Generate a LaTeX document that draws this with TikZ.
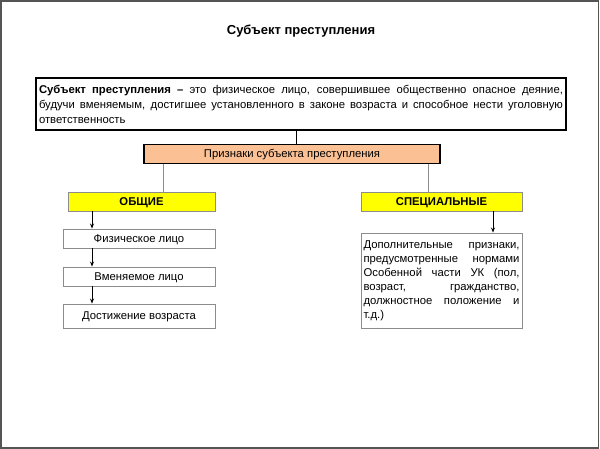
\documentclass[tikz,border=0pt]{standalone}
\usepackage{fontspec}
\setmainfont{Liberation Sans}
\usetikzlibrary{arrows.meta}
\hyphenpenalty=10000
\exhyphenpenalty=10000
\definecolor{orfill}{HTML}{FBC093}
\definecolor{yel}{HTML}{FFFF00}
\definecolor{frm}{HTML}{555555}
\definecolor{gbord}{HTML}{8C8C8C}
\tikzset{
  defbox/.style={draw=black, line width=1.6pt, minimum width=530pt, minimum height=52pt, text width=524pt, inner xsep=3pt, align=justify, font=\fontsize{11.3}{15}\selectfont},
  orbox/.style={draw=black, line width=1.1pt, fill=orfill, minimum height=19pt, text height=8pt, text depth=0.6pt, font=\fontsize{11.3}{13}\selectfont},
  yelbox/.style={draw=gbord, line width=0.9pt, fill=yel, minimum height=19pt, text height=8pt, text depth=0.3pt, font=\bfseries\fontsize{11.3}{13}\selectfont},
  whbox/.style={draw=gbord, line width=0.9pt, fill=white, minimum height=19pt, text height=8pt, text depth=0.6pt, font=\fontsize{11.3}{13}\selectfont},
  conn/.style={draw=black, line width=0.8pt},
  gconn/.style={draw=gbord, line width=0.9pt},
  arr/.style={draw=black, line width=0.8pt, -{Stealth[length=5pt,width=4pt]}}
}
\begin{document}
\begin{tikzpicture}[x=1pt,y=-1pt]
\useasboundingbox (0,0) rectangle (600,449);
\draw[frm, line width=1.6pt] (1,0.8) rectangle (598.4,448.2);
\node[font=\bfseries\fontsize{13}{15}\selectfont] (title) at (301,31) {Субъект преступления};
\node[defbox] (def) at (301,104) {\textbf{Субъект преступления –} это физическое лицо, совершившее общественно опасное деяние,\linebreak будучи вменяемым, достигшее установленного в законе возраста и способное нести уголовную\linebreak ответственность};
\node[orbox, minimum width=296pt] (pr) at (292,154) {Признаки субъекта преступления};
\node[yelbox, minimum width=147pt] (ob) at (141.5,201.5) {ОБЩИЕ};
\node[yelbox, minimum width=161pt] (sp) at (441.5,201.5) {СПЕЦИАЛЬНЫЕ};
\node[whbox, minimum width=152pt] (fiz) at (139,238.5) {Физическое лицо};
\node[whbox, minimum width=152pt] (vm) at (139,276.5) {Вменяемое лицо};
\node[whbox, minimum width=152pt, minimum height=24pt] (dost) at (139,316) {Достижение возраста};
\node[whbox, minimum width=161pt, minimum height=95pt, text width=156pt, text height=, text depth=, inner xsep=2pt, align=justify, font=\fontsize{11.3}{14}\selectfont] (dop) at (441.5,280.5) {Дополнительные признаки,\linebreak предусмотренные нормами\linebreak Особенной части УК (пол,\linebreak возраст, гражданство,\linebreak должностное положение и\linebreak т.д.)};
\coordinate (c1) at (296,0);
\coordinate (c2) at (163,0);
\coordinate (c3) at (428,0);
\coordinate (c4) at (92,0);
\coordinate (c5) at (493,0);
\draw[conn] (def.south -| c1) -- (pr.north -| c1);
\draw[gconn] (pr.south -| c2) -- (ob.north -| c2);
\draw[gconn] (pr.south -| c3) -- (sp.north -| c3);
\draw[arr] (ob.south -| c4) -- (fiz.north -| c4);
\draw[arr] (fiz.south -| c4) -- (vm.north -| c4);
\draw[arr] (vm.south -| c4) -- (dost.north -| c4);
\draw[arr] (sp.south -| c5) -- (dop.north -| c5);
\end{tikzpicture}
\end{document}
